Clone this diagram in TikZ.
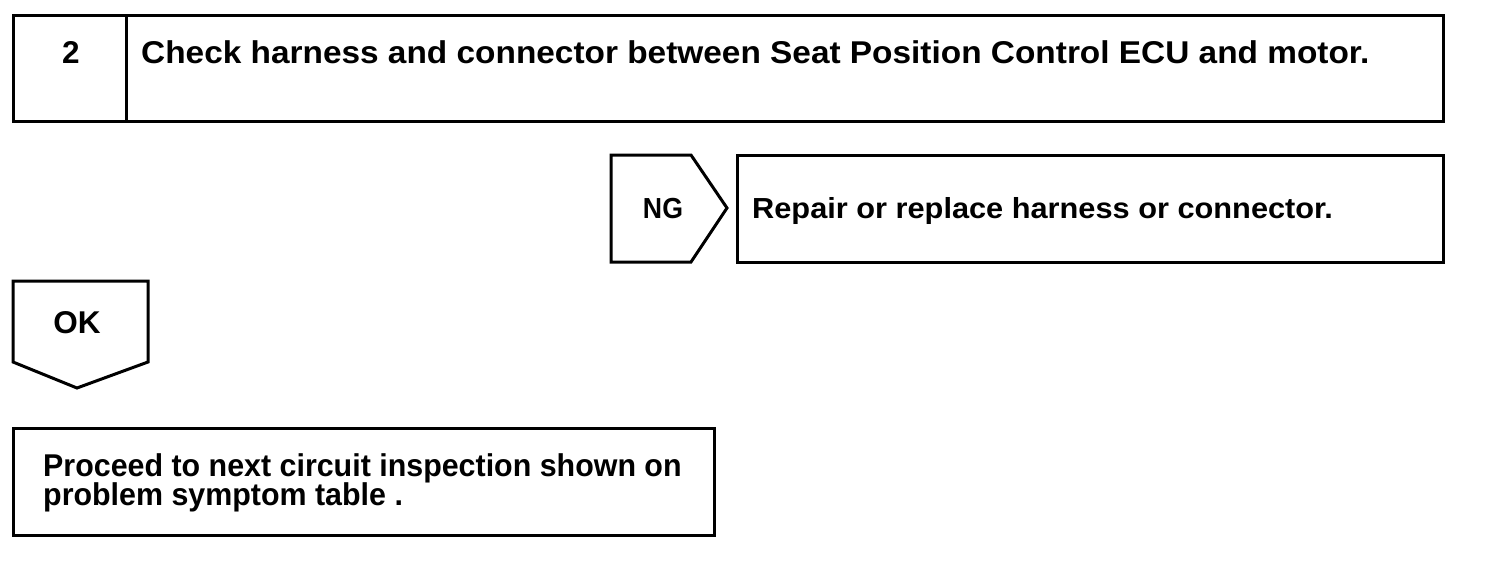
\documentclass[tikz,border=0pt]{standalone}
\usepackage{graphicx}
\usepackage{fontspec}
\setmainfont{Liberation Sans}
\usetikzlibrary{positioning}

\tikzset{
  frame/.style={draw, line width=3pt, line join=miter},
  lbl/.style={font=\fontsize{31.5}{34}\selectfont\bfseries, inner sep=0pt},
  smalllbl/.style={font=\fontsize{29}{32}\selectfont\bfseries, inner sep=0pt},
}

\begin{document}
\begin{tikzpicture}[x=1pt,y=-1pt]
    \useasboundingbox (0,0) rectangle (1504,576);

    % step 2
    \draw[frame] (13,15) rectangle (1443,121);
    \draw[frame] (126,15) -- (126,121);
    \node[lbl, anchor=base] (stepnum) at (71,63) {2};
    \node[lbl, anchor=base west] (steptext) at (141,63)
        {\scalebox{1.06}[1]{Check harness and connector between Seat Position Control ECU and motor.}};

    % ----------

    % NG branch
    \draw[frame] (611,155) -- (691,155) -- (727,208) -- (691,262) -- (611,262) -- cycle;
    \node[smalllbl, anchor=base] (ng) at (663,218) {\scalebox{0.92}[1]{NG}};
    \draw[frame] (737,155) rectangle (1443,262);
    \node[smalllbl, anchor=base west] (ngtext) at (752,218)
        {\scalebox{1.06}[1]{Repair or replace harness or connector.}};

    % ----------

    % OK branch
    \draw[frame] (13,281) -- (148,281) -- (148,362) -- (77,388) -- (13,362) -- cycle;
    \node[lbl, anchor=base] (ok) at (77,333) {OK};
    \draw[frame] (13,428) rectangle (714,535);
    \node[lbl, anchor=base west] (oktext) at (43,476)
        {\scalebox{0.965}[1]{Proceed to next circuit inspection shown on}};
    \node[lbl, anchor=base west] (oktextb) at (43,505)
        {\scalebox{0.965}[1]{problem symptom table .}};

\end{tikzpicture}
\end{document}
